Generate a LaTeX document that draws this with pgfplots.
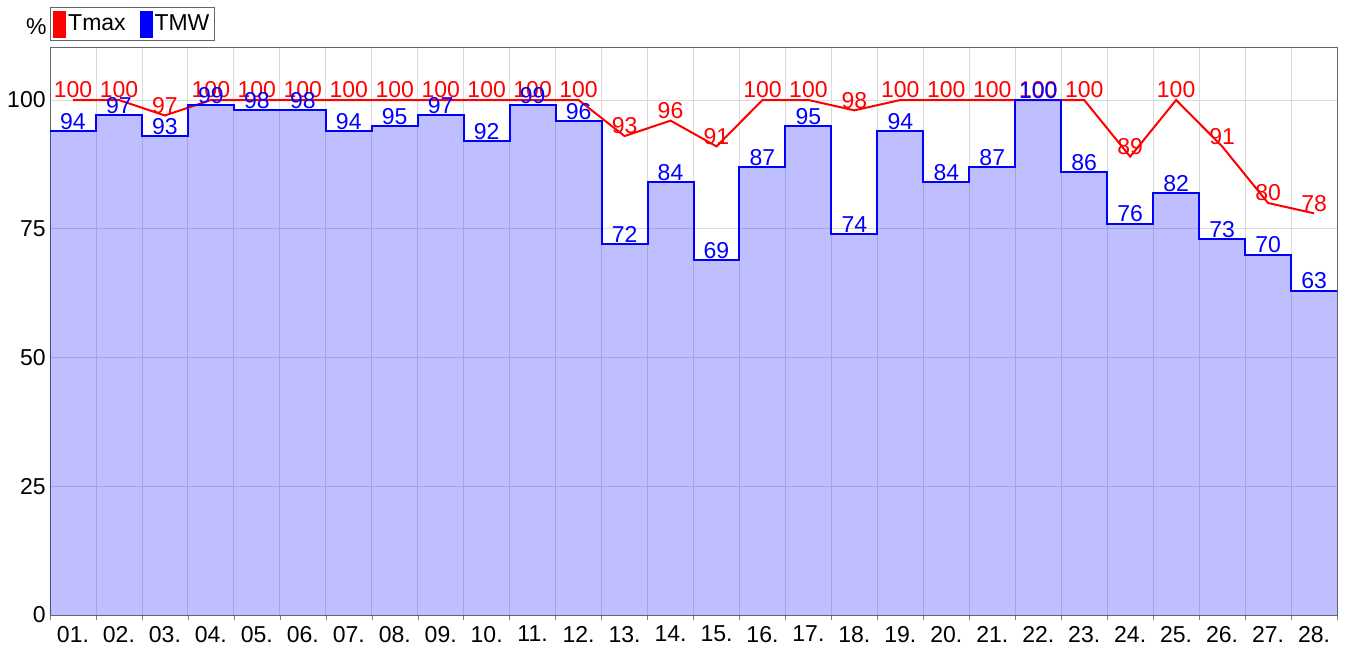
\documentclass[border=0pt]{standalone}
\usepackage{pgfplots}
\pgfplotsset{compat=1.18}
\usepackage{pgfplotstable}
\usepackage{fontspec}
\setmainfont{Liberation Sans}

% step edges (left edge of each day, last row closes day 28)
\pgfplotstableread{
x tmw
0 94
1 97
2 93
3 99
4 98
5 98
6 94
7 95
8 97
9 92
10 99
11 96
12 72
13 84
14 69
15 87
16 95
17 74
18 94
19 84
20 87
21 100
22 86
23 76
24 82
25 73
26 70
27 63
28 63
}\steps

% day centres
\pgfplotstableread{
x tmax tmw
0.5 100 94
1.5 100 97
2.5 97 93
3.5 100 99
4.5 100 98
5.5 100 98
6.5 100 94
7.5 100 95
8.5 100 97
9.5 100 92
10.5 100 99
11.5 100 96
12.5 93 72
13.5 96 84
14.5 91 69
15.5 100 87
16.5 100 95
17.5 98 74
18.5 100 94
19.5 100 84
20.5 100 87
21.5 100 100
22.5 100 86
23.5 89 76
24.5 100 82
25.5 91 73
26.5 80 70
27.5 78 63
}\centers

\begin{document}
\begin{tikzpicture}
\begin{axis}[
  name=ax,
  scale only axis,
  width=643.5pt, height=284pt,
  xmin=0, xmax=28, ymin=0, ymax=110.3,
  clip=false,
  font=\fontsize{11.5pt}{13pt}\selectfont,
  /pgf/number format/assume math mode=true,
  tick pos=left,
  xtick={0.5,1.5,...,27.5},
  xticklabels={01.,02.,03.,04.,05.,06.,07.,08.,09.,10.,11.,12.,13.,14.,15.,16.,17.,18.,19.,20.,21.,22.,23.,24.,25.,26.,27.,28.},
  minor xtick={0,1,...,28},
  xminorgrids,
  major x tick style={draw=none},
  minor tick length=2.5pt,
  tick align=outside,
  ytick={0,25,50,75,100},
  ymajorgrids,
  major tick length=0pt,
  grid style={black!14},
  minor grid style={black!14},
  axis line style={black!60},
  xticklabel style={yshift=-2pt},
  yticklabel style={inner sep=1pt, xshift=-1pt},
  legend style={at={(rel axis cs:0,1)}, anchor=south west, yshift=3pt,
    draw=black!60, inner sep=1.5pt, legend columns=-1,
    font=\fontsize{11.5pt}{13pt}\selectfont,
    nodes={inner sep=1pt},
    /tikz/every odd column/.style={column sep=0pt},
    /tikz/every even column/.style={column sep=6pt}},
  legend image code/.code={\fill[#1] (0pt,-6.5pt) rectangle (6pt,6.5pt);},
]
\addlegendimage{red}\addlegendentry{Tmax}
\addlegendimage{blue}\addlegendentry{TMW}

\addplot[const plot, draw=none, fill=blue, fill opacity=0.25, forget plot]
  table[x=x, y=tmw]{\steps} \closedcycle;

\addplot[red, line width=1pt, forget plot,
  nodes near coords,
  every node near coord/.style={anchor=south, inner sep=0.5pt, text=red}]
  table[x=x, y=tmax]{\centers};

\addplot[const plot, blue, line width=1pt, forget plot]
  table[x=x, y=tmw]{\steps};

\addplot[draw=none, forget plot,
  nodes near coords,
  every node near coord/.style={anchor=south, inner sep=0.5pt, text=blue}]
  table[x=x, y=tmw]{\centers};

\node[anchor=base east, inner sep=0pt] at ([xshift=-1.5pt, yshift=6pt]rel axis cs:0,1) {\%};
\end{axis}
\path ([xshift=-25pt, yshift=-16pt]ax.south west) rectangle ([xshift=4pt, yshift=23.5pt]ax.north east);
\end{tikzpicture}
\end{document}
